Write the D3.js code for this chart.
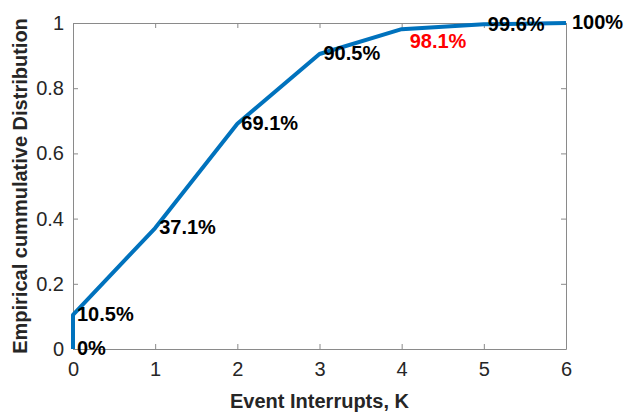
<!DOCTYPE html>
<html>
<head>
<meta charset="utf-8">
<script src="https://cdn.jsdelivr.net/npm/d3@7"></script>
<style>
  body { margin: 0; background: #fff; }
  text { font-family: "Liberation Sans", Arial, Helvetica, sans-serif; }
</style>
</head>
<body>
<div id="chart"></div>
<script>
// data
var xVals = [0, 0, 1, 2, 3, 4, 5, 6];
var yVals = [0, 0.105, 0.371, 0.691, 0.905, 0.981, 0.996, 1.0];
var pctLabels = ["0%", "10.5%", "37.1%", "69.1%", "90.5%", "98.1%", "99.6%", "100%"];
var xTicks = [0, 1, 2, 3, 4, 5, 6];
var yTicks = [0, 0.2, 0.4, 0.6, 0.8, 1];

var W = 624, H = 414;
var margin = {top: 23, right: 58, bottom: 65, left: 73};
var width = W - margin.left - margin.right;
var height = H - margin.top - margin.bottom;

var svg = d3.select("#chart").append("svg")
    .attr("width", W).attr("height", H)
  .append("g")
    .attr("transform", "translate(" + margin.left + "," + margin.top + ")");

var x = d3.scaleLinear().domain([0, 6]).range([0, width]);
var y = d3.scaleLinear().domain([0, 1]).range([height, 0]);

var axisColor = "#262626";

// box + inward ticks (matlab style)
function styleAxis(g) {
  g.select(".domain").attr("stroke", "#8a8a8a").attr("stroke-width", 1);
  g.selectAll(".tick line").attr("stroke", "#8a8a8a");
  g.selectAll(".tick text").attr("fill", axisColor).style("font-size", "20px");
}

svg.append("g").attr("transform", "translate(0," + height + ")")
  .call(d3.axisBottom(x).tickValues(xTicks).tickSizeInner(-5).tickSizeOuter(0).tickPadding(13).tickFormat(d3.format("d")))
  .call(styleAxis);
svg.append("g")
  .call(d3.axisLeft(y).tickValues(yTicks).tickSizeInner(-5).tickSizeOuter(0).tickPadding(9).tickFormat(function(d) { return d === 0 || d === 1 ? d : d3.format(".1f")(d); }))
  .call(styleAxis);
svg.append("g")
  .call(d3.axisTop(x).tickValues(xTicks).tickSizeInner(-5).tickSizeOuter(0).tickFormat(""))
  .call(styleAxis);
svg.append("g").attr("transform", "translate(" + width + ",0)")
  .call(d3.axisRight(y).tickValues(yTicks).tickSizeInner(-5).tickSizeOuter(0).tickFormat(""))
  .call(styleAxis);

// curve
var pts = xVals.map(function(d, i) { return [d, yVals[i]]; });
svg.append("path")
  .datum(pts)
  .attr("fill", "none")
  .attr("stroke", "#0072BD")
  .attr("stroke-width", 4)
  .attr("stroke-linejoin", "round")
  .attr("d", d3.line().x(function(d) { return x(d[0]); }).y(function(d) { return y(d[1]); }));

// percentage labels
svg.selectAll(".pct")
  .data(pts)
  .enter().append("text")
  .attr("class", "pct")
  .attr("x", function(d, i) { return x(d[0]) + (i === 5 ? 8 : i === 7 ? 6 : 4); })
  .attr("y", function(d, i) { return y(d[1]) + (i === 5 ? 14 : 1); })
  .attr("dominant-baseline", "middle")
  .attr("fill", function(d, i) { return i === 5 ? "#ff0000" : "#000"; })
  .style("font-size", "20px")
  .style("font-weight", "bold")
  .text(function(d, i) { return pctLabels[i]; });

// axis titles
svg.append("text")
  .attr("x", width / 2)
  .attr("y", height + 59)
  .attr("text-anchor", "middle")
  .attr("fill", axisColor)
  .style("font-size", "20px")
  .style("font-weight", "bold")
  .text("Event Interrupts, K");

svg.append("text")
  .attr("transform", "translate(" + (-46) + "," + (height / 2) + ") rotate(-90)")
  .attr("text-anchor", "middle")
  .attr("fill", axisColor)
  .style("font-size", "20px")
  .style("font-weight", "bold")
  .text("Empirical cummulative Distribution");
</script>
</body>
</html>
